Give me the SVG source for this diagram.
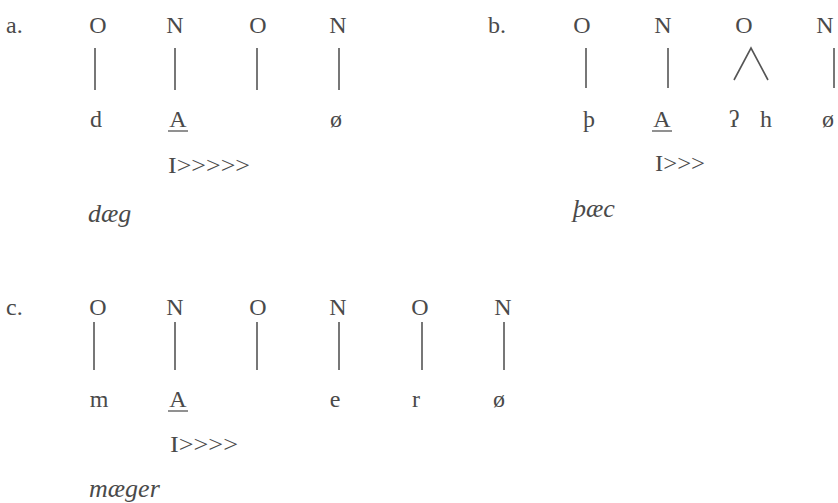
<svg xmlns="http://www.w3.org/2000/svg" width="838" height="503" viewBox="0 0 838 503">
  <style>
    text { font-family: "Liberation Serif", "Times New Roman", serif; font-size: 24px; fill: #4a4a4a; }
    .c { text-anchor: middle; }
    .it { font-style: italic; font-size: 26px; }
    .ln { stroke: #555; stroke-width: 1.6; fill: none; }
    .ul { stroke: #555; stroke-width: 1.3; }
  </style>
  <rect width="838" height="503" fill="#fff"/>

  <!-- (a) dæg -->
  <g id="ex-a">
    <text x="6" y="33">a.</text>
    <g id="a-skeleton">
      <text class="c" x="98" y="33">O</text>
      <text class="c" x="175" y="33">N</text>
      <text class="c" x="258" y="33">O</text>
      <text class="c" x="338" y="33">N</text>
    </g>
    <g id="a-melody">
      <text class="c" x="96" y="127">d</text>
      <text class="c" x="178" y="127">A</text>
      <line class="ul" x1="168" y1="131" x2="188" y2="131"/>
      <text class="c" x="336" y="127">ø</text>
    </g>
    <text id="a-spread" x="168" y="173" textLength="82" lengthAdjust="spacingAndGlyphs">I&gt;&gt;&gt;&gt;&gt;</text>
    <text id="a-word" class="it" x="88" y="222">dæg</text>
  </g>

  <!-- (b) þæc -->
  <g id="ex-b">
    <text x="488" y="33">b.</text>
    <g id="b-skeleton">
      <text class="c" x="582" y="33">O</text>
      <text class="c" x="663" y="33">N</text>
      <text class="c" x="744" y="33">O</text>
      <text class="c" x="825" y="33">N</text>
    </g>
    <g id="b-melody">
      <text class="c" x="589" y="127">þ</text>
      <text class="c" x="662" y="127">A</text>
      <line class="ul" x1="652" y1="131" x2="672" y2="131"/>
      <text class="c" x="734" y="127">ʔ</text>
      <text class="c" x="766" y="127">h</text>
      <text class="c" x="828" y="127">ø</text>
    </g>
    <text id="b-spread" x="655" y="171" textLength="50" lengthAdjust="spacingAndGlyphs">I&gt;&gt;&gt;</text>
    <text id="b-word" class="it" x="573" y="217">þæc</text>
  </g>

  <!-- (c) mæger -->
  <g id="ex-c">
    <text x="6" y="315">c.</text>
    <g id="c-skeleton">
      <text class="c" x="98" y="315">O</text>
      <text class="c" x="175" y="315">N</text>
      <text class="c" x="258" y="315">O</text>
      <text class="c" x="338" y="315">N</text>
      <text class="c" x="420" y="315">O</text>
      <text class="c" x="503" y="315">N</text>
    </g>
    <g id="c-melody">
      <text class="c" x="99" y="407">m</text>
      <text class="c" x="178" y="407">A</text>
      <line class="ul" x1="168" y1="411" x2="188" y2="411"/>
      <text class="c" x="335" y="407">e</text>
      <text class="c" x="416" y="407">r</text>
      <text class="c" x="499" y="407">ø</text>
    </g>
    <text id="c-spread" x="170" y="452" textLength="68" lengthAdjust="spacingAndGlyphs">I&gt;&gt;&gt;&gt;</text>
    <text id="c-word" class="it" x="89" y="497">mæger</text>
  </g>

  <!-- association lines -->
  <g id="connectors">
    <line class="ln" x1="95" y1="48" x2="95" y2="90"/>
    <line class="ln" x1="175" y1="48" x2="175" y2="90"/>
    <line class="ln" x1="257" y1="48" x2="257" y2="90"/>
    <line class="ln" x1="339" y1="48" x2="339" y2="90"/>

    <line class="ln" x1="586" y1="48" x2="586" y2="88"/>
    <line class="ln" x1="668" y1="48" x2="668" y2="88"/>
    <polyline class="ln" points="734,80 751,48 768,80"/>
    <line class="ln" x1="834" y1="48" x2="834" y2="88"/>

    <line class="ln" x1="94" y1="322" x2="94" y2="370"/>
    <line class="ln" x1="175" y1="322" x2="175" y2="370"/>
    <line class="ln" x1="257" y1="322" x2="257" y2="370"/>
    <line class="ln" x1="339" y1="322" x2="339" y2="370"/>
    <line class="ln" x1="422" y1="322" x2="422" y2="370"/>
    <line class="ln" x1="504" y1="322" x2="504" y2="370"/>
  </g>
</svg>
